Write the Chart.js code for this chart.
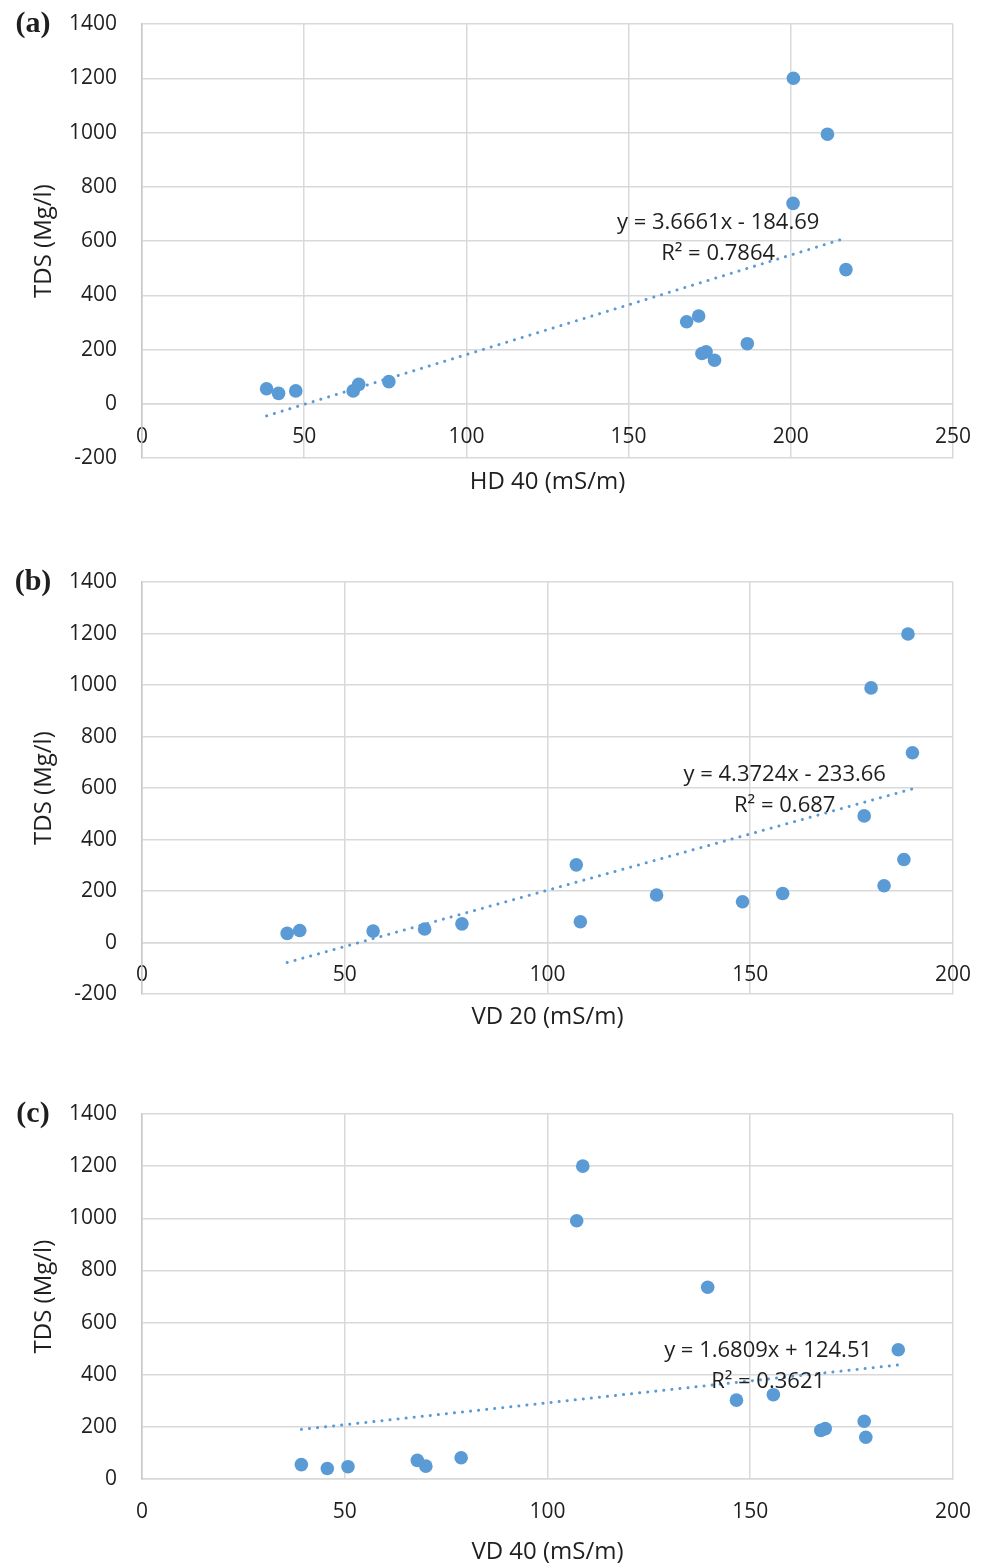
<!DOCTYPE html>
<html>
<head>
<meta charset="utf-8">
<script src="https://cdn.jsdelivr.net/npm/chart.js@4.4.1/dist/chart.umd.min.js"></script>
<style>
  html, body { margin: 0; padding: 0; background: #fff; }
  body { width: 991px; height: 1566px; position: relative; overflow: hidden; }
  .panel { position: absolute; left: 0; width: 991px; }
</style>
</head>
<body>
<div class="panel" style="top:-16px;height:528px"><canvas id="chartA" width="991" height="528"></canvas></div>
<div class="panel" style="top:542px;height:520px"><canvas id="chartB" width="991" height="520"></canvas></div>
<div class="panel" style="top:1072px;height:496px"><canvas id="chartC" width="991" height="496"></canvas></div>
<script>
// TDS vs conductivity, three panels
const BLUE = "#5B9BD5";
const GRID = "#d9d9d9";
const TEXT = "#1f1f1f";
const FONT = "'Open Sans', 'Noto Sans', sans-serif";

// ─── Data ─────────────────────────────────────────────────────────────────────
// (a) HD 40
const hd40 = [38.4, 42.1, 47.4, 65.1, 66.8, 76.1, 167.9, 171.6, 172.6, 173.9, 176.5, 186.6, 200.7, 200.8, 211.3, 217.0];
const tdsA = [56, 39, 48, 48, 72, 82, 303, 324, 186, 192, 161, 222, 739, 1200, 994, 495];
const trendAx = [38.4, 217];
const trendAy = [-44, 611];
const eqA = ["y = 3.6661x - 184.69", "R² = 0.7864"];

// (b) VD 20
const vd20 = [35.8, 38.9, 57.0, 69.7, 78.9, 107.1, 108.1, 126.9, 148.1, 158.0, 178.1, 179.8, 183.0, 187.9, 188.9, 190.0];
const tdsB = [36, 47, 45, 53, 73, 302, 81, 185, 159, 191, 492, 989, 221, 323, 1198, 737];
const trendBx = [35.8, 190];
const trendBy = [-77, 597];
const eqB = ["y = 4.3724x - 233.66", "R² = 0.687"];

// (c) VD 40
const vd40 = [39.3, 45.7, 50.8, 67.9, 70.0, 78.7, 107.2, 108.7, 139.5, 146.6, 155.7, 167.4, 168.5, 178.1, 178.5, 186.5];
const tdsC = [56, 41, 48, 72, 50, 82, 991, 1200, 736, 303, 324, 187, 194, 222, 161, 496];
const trendCx = [39.3, 186.5];
const trendCy = [191, 438];
const eqC = ["y = 1.6809x + 124.51", "R² = 0.3621"];

const yTickStep = 200;
const xTickStep = 50;

// ─── Text plugin: equation label + panel tag ─────────────────────────────────
const panelText = {
  id: "panelText",
  afterDatasetsDraw(chart, args, opts) {
    const { ctx, scales: { x, y } } = chart;
    ctx.save();
    ctx.fillStyle = TEXT;
    ctx.textAlign = "center";
    ctx.textBaseline = "middle";
    ctx.font = `22px ${FONT}`;
    const cx = x.getPixelForValue(opts.at[0]);
    const cy = y.getPixelForValue(opts.at[1]);
    opts.lines.forEach((t, i) => ctx.fillText(t, cx, cy + i * 31));
    ctx.font = "bold 30px 'Liberation Serif', 'Times New Roman', serif";
    ctx.fillText(opts.tag, 33, chart.chartArea.top);
    ctx.restore();
  }
};

function pts(xs, ys) {
  return xs.map((v, i) => ({ x: v, y: ys[i] }));
}

function buildPanel(id, p) {
  return new Chart(document.getElementById(id), {
    type: "scatter",
    data: {
      datasets: [
        {
          data: pts(p.xs, p.ys),
          backgroundColor: BLUE, borderWidth: 0,
          pointRadius: 6.8, pointHoverRadius: 6.8, order: 1
        },
        {
          type: "line",
          data: pts(p.tx, p.ty),
          borderColor: BLUE, borderWidth: 3,
          borderDash: [0.1, 8], borderCapStyle: "round",
          pointRadius: 0, fill: false, order: 2
        }
      ]
    },
    options: {
      responsive: false, animation: false,
      layout: { padding: { top: p.padTop, right: 37, bottom: p.padBottom, left: 0 } },
      plugins: {
        legend: { display: false },
        tooltip: { enabled: false },
        panelText: { at: p.eqAt, lines: p.eq, tag: p.tag }
      },
      scales: {
        x: {
          type: "linear", position: { y: 0 },
          min: 0, max: p.xMax,
          ticks: {
            stepSize: xTickStep, padding: 20, color: TEXT,
            font: { size: 21, family: FONT }, callback: v => String(v)
          },
          grid: { color: GRID, lineWidth: 1.5, drawTicks: false },
          border: { color: GRID, width: 1.5 }
        },
        xTitle: {
          type: "linear", axis: "x", position: "bottom",
          min: 0, max: p.xMax,
          ticks: { display: false },
          grid: { display: false, drawTicks: false },
          border: { display: false },
          title: {
            display: true, text: p.xLabel, color: TEXT,
            font: { size: 24, family: FONT, lineHeight: 1.2 },
            padding: { top: p.titleGap, bottom: 0 }
          }
        },
        y: {
          min: p.yMin, max: 1400,
          ticks: {
            stepSize: yTickStep, padding: 25, color: TEXT,
            font: { size: 21, family: FONT }, callback: v => String(v)
          },
          grid: { color: GRID, lineWidth: 1.5, drawTicks: false },
          border: { color: "#c8c8c8", width: 1.5 },
          title: {
            display: true, text: "TDS (Mg/l)", color: TEXT,
            font: { size: 24, family: FONT, lineHeight: 1.2 },
            padding: { top: 30, bottom: 0 }
          },
          afterFit: s => { s.width = 142; }
        }
      }
    },
    plugins: [panelText]
  });
}

buildPanel("chartA", {
  xs: hd40, ys: tdsA, tx: trendAx, ty: trendAy, eq: eqA, eqAt: [177.6, 666],
  tag: "(a)", xLabel: "HD 40 (mS/m)", xMax: 250, yMin: -200,
  padTop: 40, padBottom: 15, titleGap: 10
});

buildPanel("chartB", {
  xs: vd20, ys: tdsB, tx: trendBx, ty: trendBy, eq: eqB, eqAt: [158.5, 651],
  tag: "(b)", xLabel: "VD 20 (mS/m)", xMax: 200, yMin: -200,
  padTop: 40, padBottom: 30, titleGap: 9
});

buildPanel("chartC", {
  xs: vd40, ys: tdsC, tx: trendCx, ty: trendCy, eq: eqC, eqAt: [154.4, 493],
  tag: "(c)", xLabel: "VD 40 (mS/m)", xMax: 200, yMin: 0,
  padTop: 42, padBottom: 1, titleGap: 59
});
</script>
</body>
</html>
